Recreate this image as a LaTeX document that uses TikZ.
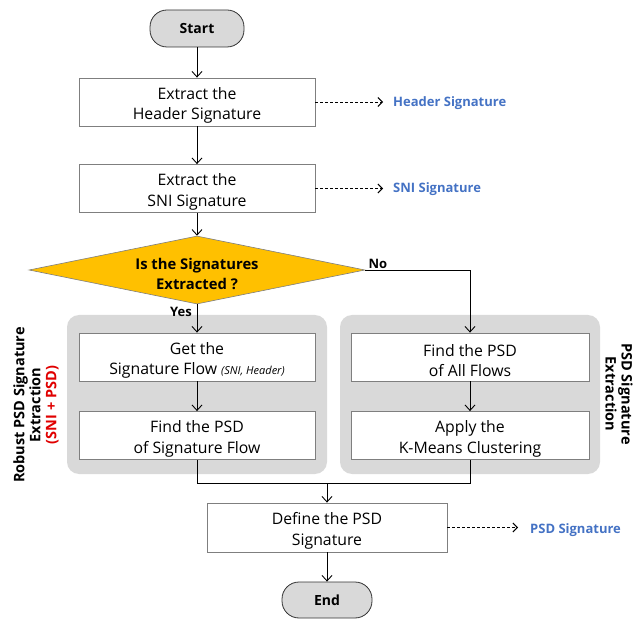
\documentclass[tikz,border=0pt]{standalone}
\usepackage{fontspec}
\setmainfont{Open Sans}
\usetikzlibrary{arrows.meta,shapes.geometric,positioning}
\definecolor{panelgray}{HTML}{D9D9D9}
\definecolor{termgray}{HTML}{D9D9D9}
\definecolor{diamondfill}{HTML}{FFC000}
\definecolor{sigblue}{HTML}{4472C4}
\definecolor{edgegray}{HTML}{7F7F7F}
\definecolor{labelred}{HTML}{E00000}
\newcommand{\boxfont}{\fontsize{15.8}{20.5}\selectfont}
\newcommand{\sigfont}{\fontsize{13}{15}\selectfont\bfseries}
% a tall strut on the first line lowers two-line labels slightly
\newcommand{\fls}{\rule{0pt}{19pt}}
\tikzset{
  terminal/.style={draw=black!80, line width=0.8pt, fill=termgray, rounded corners=17pt,
    minimum width=94pt, minimum height=37pt, inner sep=0pt, font=\fontsize{14}{16}\selectfont\bfseries},
  stepbox/.style={draw=edgegray, line width=0.8pt, fill=white, minimum width=236pt,
    minimum height=48pt, inner sep=0pt, align=center, font=\boxfont},
  decision/.style={diamond, draw=edgegray, line width=0.6pt, fill=diamondfill, aspect=4.94,
    minimum width=336pt, minimum height=68pt, inner sep=0pt, align=center,
    font=\fontsize{14.8}{20}\selectfont\bfseries},
  panel/.style={fill=panelgray, rounded corners=12pt, minimum width=260pt,
    minimum height=159pt, inner sep=0pt},
  flow/.style={draw=black, line width=0.9pt, -{Straight Barb[length=5.5pt,width=10pt]}},
  plainline/.style={draw=black, line width=0.9pt},
  dasharrow/.style={draw=black, line width=0.9pt, dashed, dash pattern=on 3pt off 2pt,
    -{Straight Barb[length=4.5pt,width=9pt]}},
  siglabel/.style={text=sigblue, font=\sigfont, anchor=west, inner sep=0pt},
  sidelabel/.style={align=center, font=\fontsize{14.5}{16}\selectfont\bfseries, inner sep=0pt},
}
\begin{document}
\begin{tikzpicture}[x=1pt,y=-1pt]
\useasboundingbox (0,0) rectangle (643,620);

% grey group panels
\node[panel] (lpanel) at (197,394.5) {};
\node[panel] (rpanel) at (470,394.5) {};

% main flow
\node[terminal] (start) at (197,28.5) {Start};
\node[stepbox] (hdr) at (197,102) {\fls Extract the\\Header Signature};
\node[stepbox] (sni) at (197,188.5) {\fls Extract the\\SNI Signature};
\node[decision] (dec) at (197,270) {\fls Is the Signatures\\Extracted ?};

\node[stepbox] (getflow) at (197,357) {\fls Get the\\Signature Flow {\fontsize{11}{12}\selectfont\itshape (SNI, Header)}};
\node[stepbox] (psdsig) at (197,435.5) {\fls Find the PSD\\of Signature Flow};
\node[stepbox, minimum width=238pt] (psdall) at (470,357) {\fls Find the PSD\\of All Flows};
\node[stepbox, minimum width=238pt] (kmeans) at (470,435.5) {\fls Apply the\\K-Means Clustering};

\node[stepbox, minimum width=240pt, minimum height=49pt] (define) at (327,527.5) {\fls Define the PSD\\Signature};
\node[terminal, minimum width=90pt, minimum height=36pt] (end) at (327,600) {End};

% signature outputs
\node[siglabel] (hsig) at (393,103) {Header Signature};
\node[siglabel] (ssig) at (393,189.5) {SNI Signature};
\node[siglabel] (psig) at (530,530) {PSD Signature};

% side captions
\node[sidelabel, rotate=90] (lcap) at (36,405) {Robust PSD Signature\\Extraction\\{\color{labelred}(SNI + PSD)}};
\node[sidelabel, rotate=-90] (rcap) at (619,394) {PSD Signature\\Extraction};

% connectors
\draw[flow] (start) -- (hdr);
\draw[flow] (hdr) -- (sni);
\draw[flow] (sni) -- (dec.north);
\draw[flow] (dec.south) -- (getflow.north);
\draw[flow] (dec.east) -| (psdall.north);
\draw[flow] (getflow) -- (psdsig);
\draw[flow] (psdall) -- (kmeans);
\coordinate (join) at (327,483);
\draw[plainline] (psdsig.south) |- (join);
\draw[plainline] (kmeans.south) |- (join);
\draw[flow] (join) -- (define.north);
\draw[flow] (define) -- (end);

\draw[dasharrow, shorten >=10pt] (hdr.east) -- (hdr.east -| hsig.west);
\draw[dasharrow, shorten >=10pt] (sni.east) -- (sni.east -| ssig.west);
\draw[dasharrow, shorten >=12pt] (define.east) -- (define.east -| psig.west);

% branch labels
\node[font=\fontsize{13}{15}\selectfont\bfseries, anchor=south west, inner sep=1pt] (nolab) at ([xshift=2pt]dec.east) {No};
\node[font=\fontsize{13}{15}\selectfont\bfseries, anchor=east, inner sep=1pt] (yeslab) at (193,312) {Yes};
\end{tikzpicture}
\end{document}
